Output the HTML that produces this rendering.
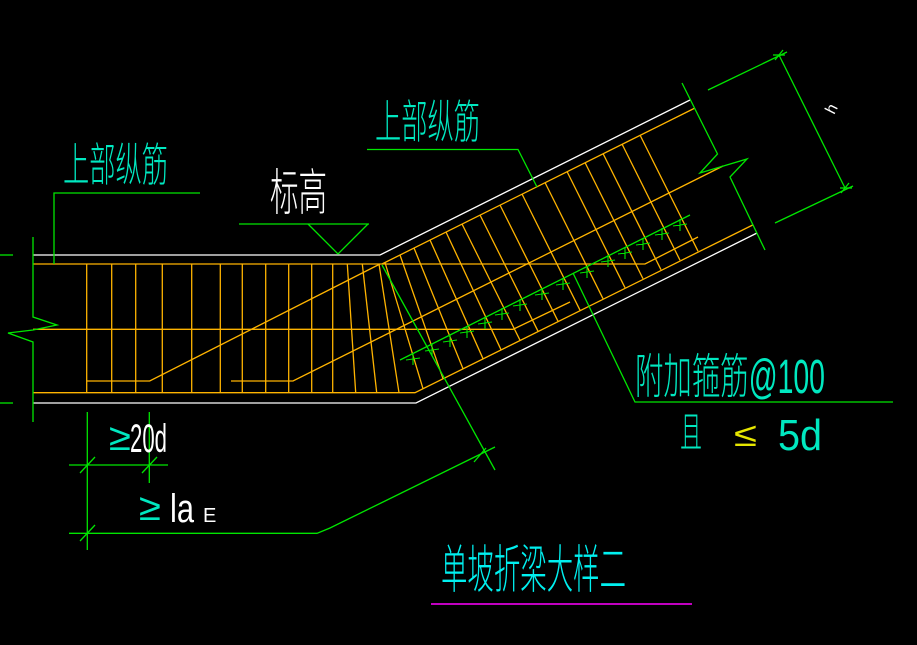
<!DOCTYPE html>
<html><head><meta charset="utf-8"><style>
html,body{margin:0;padding:0;background:#000;}
svg{display:block;}
text{font-family:"Liberation Sans","Noto Sans CJK SC",sans-serif;}
</style></head><body>
<svg width="917" height="645" viewBox="0 0 917 645" xmlns="http://www.w3.org/2000/svg">
<rect width="917" height="645" fill="#000"/>
<g fill="none" stroke-width="1.3">
<!-- white concrete outline -->
<polyline stroke="#fff" points="33,255 380,255 690,100"/>
<polyline stroke="#fff" points="33,403 416,403 757,233"/>
<!-- orange rebar -->
<g stroke="#ffb400">
<polyline points="33,264 645,264 698,237"/>
<polyline points="33,329.3 513,329.3 570,302"/>
<polyline points="33,392.7 415,392.7 752.7,225"/>
<line x1="382" y1="264" x2="695" y2="108"/>
<polyline points="86.7,381 149.7,381 380,264"/>
<polyline points="231,381 293,381 723,166"/>
<line x1="86.7" y1="264" x2="86.7" y2="392.7"/>
<line x1="111.7" y1="264" x2="111.7" y2="392.7"/>
<line x1="135.7" y1="264" x2="135.7" y2="392.7"/>
<line x1="162.3" y1="264" x2="162.3" y2="392.7"/>
<line x1="191.7" y1="264" x2="191.7" y2="392.7"/>
<line x1="220.3" y1="264" x2="220.3" y2="392.7"/>
<line x1="242.3" y1="264" x2="242.3" y2="392.7"/>
<line x1="265.7" y1="264" x2="265.7" y2="392.7"/>
<line x1="288.7" y1="264" x2="288.7" y2="392.7"/>
<line x1="311.7" y1="264" x2="311.7" y2="392.7"/>
<line x1="332.7" y1="264" x2="332.7" y2="392.7"/>
<line x1="347.3" y1="264" x2="355.7" y2="392.7"/>
<line x1="362.3" y1="264" x2="376.7" y2="392.7"/>
<line x1="379" y1="264" x2="399" y2="392.7"/>
<line x1="385" y1="262.5" x2="423" y2="388.7"/>
<line x1="400" y1="255" x2="443" y2="378.7"/>
<line x1="414" y1="248" x2="463" y2="368.7"/>
<line x1="430" y1="240" x2="483" y2="358.7"/>
<line x1="446" y1="232" x2="501" y2="349.7"/>
<line x1="462" y1="224" x2="520" y2="340.2"/>
<line x1="480" y1="215" x2="538" y2="331.2"/>
<line x1="500" y1="205" x2="558" y2="321.2"/>
<line x1="522" y1="194" x2="580" y2="310.2"/>
<line x1="545" y1="182.5" x2="603" y2="298.7"/>
<line x1="567" y1="171.5" x2="625" y2="287.7"/>
<line x1="585" y1="162.5" x2="643" y2="278.7"/>
<line x1="603" y1="153.5" x2="661" y2="269.7"/>
<line x1="622" y1="144" x2="680" y2="260.2"/>
<line x1="640" y1="135" x2="698" y2="251.2"/>
</g>
<!-- green lines -->
<g stroke="#00e600">
<line x1="0" y1="255" x2="13" y2="255"/>
<line x1="0" y1="403" x2="13" y2="403"/>
<polyline points="33,237 33,317 57,325 33,330 8,333 33,342 33,422"/>
<polyline points="54,264 54,193 200,193"/>
<line x1="239" y1="224" x2="369" y2="224"/>
<polyline points="308,224 338,254 368,224"/>
<polyline points="367,149.5 518,149.5 537,187"/>
<line x1="382" y1="265" x2="495" y2="470"/>
<polyline points="573,273 635,402 893,402"/>
<line x1="400" y1="360" x2="690" y2="215"/>
<polyline points="682,83 717.5,154 700,173 747,159 730,177 765,250"/>
<line x1="708" y1="90" x2="787" y2="52"/>
<line x1="775" y1="223" x2="853" y2="186"/>
<line x1="779" y1="55" x2="845" y2="188"/>
<line x1="773" y1="55" x2="785" y2="55"/><line x1="775" y1="60" x2="783" y2="50"/>
<line x1="840" y1="188" x2="852" y2="188"/><line x1="841" y1="193" x2="849" y2="183"/>
<line x1="87.3" y1="412" x2="87.3" y2="550"/>
<line x1="149.3" y1="412" x2="149.3" y2="483"/>
<line x1="69" y1="465" x2="168" y2="465"/>
<polyline points="69,533.3 317,533.3 330,528 495,447"/>
<line x1="80" y1="473" x2="95" y2="457"/>
<line x1="142" y1="473" x2="157" y2="457"/>
<line x1="80" y1="541" x2="95" y2="525"/>
<line x1="474" y1="462" x2="486" y2="448"/>
<g stroke-width="1.1">
<path d="M406,360 l14,-2 M413,353 l0,12 M425,351 l14,-2 M432,344 l0,12 M443,342 l14,-2 M450,335 l0,12 M460,333 l14,-2 M467,326 l0,12 M478,324 l14,-2 M485,317 l0,12 M495,315 l14,-2 M502,308 l0,12 M513,306 l14,-2 M520,299 l0,12 M535,295 l14,-2 M542,288 l0,12 M556,285 l14,-2 M563,278 l0,12 M580,273 l14,-2 M587,266 l0,12 M601,262 l14,-2 M608,255 l0,12 M618,254 l14,-2 M625,247 l0,12 M636,245 l14,-2 M643,238 l0,12 M655,235 l14,-2 M662,228 l0,12 M673,226 l14,-2 M680,219 l0,12"/>
</g>
</g>
<line x1="431" y1="604" x2="692" y2="604" stroke="#ff00ff" stroke-width="1.6"/>
</g>
<!-- text -->
<g fill="#00e8c0" font-weight="300">
<text x="63" y="181" font-size="46" textLength="105" lengthAdjust="spacingAndGlyphs">上部纵筋</text>
<text x="375" y="138" font-size="46" textLength="105" lengthAdjust="spacingAndGlyphs">上部纵筋</text>
<text x="635" y="393" font-size="48" textLength="190" lengthAdjust="spacingAndGlyphs">附加箍筋@100</text>
<text x="680" y="447" font-size="42" textLength="22" lengthAdjust="spacingAndGlyphs">且</text>
<text x="778" y="450" font-size="44" textLength="44" lengthAdjust="spacingAndGlyphs">5d</text>
<text x="109" y="450" font-size="38" textLength="22" lengthAdjust="spacingAndGlyphs">≥</text>
<text x="139" y="520" font-size="38" textLength="22" lengthAdjust="spacingAndGlyphs">≥</text>
</g>
<text x="734" y="446" font-size="34" fill="#e6e600" textLength="23" lengthAdjust="spacingAndGlyphs">≤</text>
<g fill="#fff" font-weight="300">
<text x="270" y="210" font-size="50" textLength="57" lengthAdjust="spacingAndGlyphs">标高</text>
<text x="130" y="452" font-size="40" textLength="37" lengthAdjust="spacingAndGlyphs">20d</text>
<text x="170" y="522" font-size="40" textLength="24" lengthAdjust="spacingAndGlyphs">la</text>
<text x="203" y="522" font-size="20">E</text>
<text x="826" y="114" font-size="16" transform="rotate(-63 831 108)">h</text>
</g>
<text x="441" y="588" font-size="52" fill="#00f0f0" font-weight="300" textLength="185" lengthAdjust="spacingAndGlyphs">单坡折梁大样二</text>
</svg>
</body></html>
